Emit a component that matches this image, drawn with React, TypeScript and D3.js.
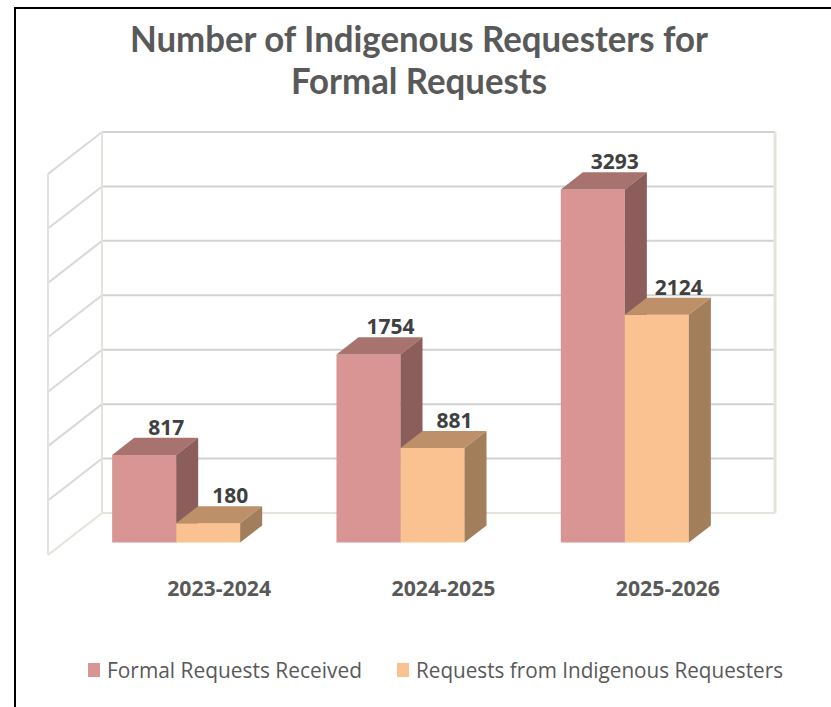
import React from 'react';
import * as d3 from 'd3';

const categories = ['2023-2024', '2024-2025', '2025-2026'];
const seriesNames = ['Formal Requests Received', 'Requests from Indigenous Requesters'];
const formalRequests = [817, 1754, 3293];
const indigenousRequests = [180, 881, 2124];
const yTicks = [0, 500, 1000, 1500, 2000, 2500, 3000, 3500];
const titleLines = ['Number of Indigenous Requesters for', 'Formal Requests'];

const W = 831;
const H = 707;

const frontLeft = 48;
const frontRight = 721;
const floorFrontY = 555;
const depthDX = 54;
const depthDY = 42;
const wallH = 381;
const t0 = 0.296;
const t1 = 0.704;

const faceColors = [
  { front: '#d99594', top: '#a8736f', side: '#8b5e5c' },
  { front: '#fac191', top: '#be906a', side: '#a27e5c' },
];

export default function App() {
  const yScale = d3.scaleLinear().domain([0, 3500]).range([0, wallH]);
  const xBand = d3.scaleBand<string>().domain(categories).range([frontLeft, frontRight]);
  const sBand = d3.scaleBand<string>().domain(seriesNames).range([-64, 64]);

  const proj = (x: number, h: number, t: number): [number, number] => [
    x + depthDX * t,
    floorFrontY - depthDY * t - h,
  ];
  const poly = (pts: [number, number][]) => pts.map((p) => p.join(',')).join(' ');

  const backX0 = frontLeft + depthDX;
  const backX1 = frontRight + depthDX;
  const backY0 = floorFrontY - depthDY;

  const seriesData = [formalRequests, indigenousRequests];

  return (
    <svg width={W} height={H} style={{ position: 'absolute', left: 0, top: 0, background: '#fff' }}>
      {/* frame */}
      <path d={`M15,${H} V8 H${W}`} fill="none" stroke="#000" strokeWidth={2} />

      {/* title */}
      {titleLines.map((line, i) => (
        <text
          key={line}
          x={419}
          y={52 + i * 42}
          textAnchor="middle"
          fontFamily="Lato, 'Open Sans', sans-serif"
          fontWeight={700}
          fontSize={37}
          fill="#595959"
          textLength={i === 0 ? 578 : 256}
          lengthAdjust="spacingAndGlyphs"
        >
          {line}
        </text>
      ))}

      {/* walls gridlines */}
      {yTicks.map((v) => {
        const y = backY0 - yScale(v);
        return (
          <g key={v}>
            {v > 0 && (
              <>
                <line x1={backX0} x2={backX1} y1={y} y2={y} stroke="#d2d2d2" strokeWidth={2} />
                <line x1={frontLeft} y1={y + depthDY} x2={backX0} y2={y} stroke="#d9d9d9" strokeWidth={2} />
              </>
            )}
          </g>
        );
      })}
      {/* wall edges */}
      <line x1={backX0} x2={backX1} y1={backY0} y2={backY0} stroke="#e6e3dc" strokeWidth={2} />
      <line x1={frontLeft} y1={floorFrontY} x2={backX0} y2={backY0} stroke="#e6e3dc" strokeWidth={2} />
      <line x1={backX0} x2={backX0} y1={backY0} y2={backY0 - wallH} stroke="#e6e3dc" strokeWidth={2} />
      <line x1={backX1} x2={backX1} y1={backY0} y2={backY0 - wallH} stroke="#e6e3dc" strokeWidth={3} />
      <line x1={frontLeft} x2={frontLeft} y1={floorFrontY} y2={floorFrontY - wallH} stroke="#e6e3dc" strokeWidth={2} />

      {/* bars */}
      {categories.map((cat, ci) => (
        <g key={cat}>
          {seriesNames.map((s, si) => {
            const v = seriesData[si][ci];
            const h = yScale(v) * 0.985;
            const x0 = (xBand(cat) as number) + xBand.bandwidth() / 2 + (sBand(s) as number);
            const x1 = x0 + sBand.bandwidth();
            const c = faceColors[si];
            const lbl = proj((x0 + x1) / 2, h, t1);
            return (
              <g key={s}>
                <polygon
                  points={poly([proj(x0, h, t0), proj(x1, h, t0), proj(x1, 0, t0), proj(x0, 0, t0)])}
                  fill={c.front}
                />
                <polygon
                  points={poly([proj(x0, h, t0), proj(x1, h, t0), proj(x1, h, t1), proj(x0, h, t1)])}
                  fill={c.top}
                />
                <polygon
                  points={poly([proj(x1, h, t0), proj(x1, h, t1), proj(x1, 0, t1), proj(x1, 0, t0)])}
                  fill={c.side}
                />
                <text
                  x={lbl[0]}
                  y={lbl[1] - 3}
                  textAnchor="middle"
                  fontFamily="'Open Sans', sans-serif"
                  fontWeight={700}
                  fontSize={21}
                  fill="#404040"
                >
                  {v}
                </text>
              </g>
            );
          })}
        </g>
      ))}

      {/* category labels */}
      {categories.map((cat) => (
        <text
          key={cat}
          x={(xBand(cat) as number) + xBand.bandwidth() / 2 + 59}
          y={596}
          textAnchor="middle"
          fontFamily="'Open Sans', sans-serif"
          fontWeight={700}
          fontSize={21}
          fill="#595959"
          textLength={104}
          lengthAdjust="spacingAndGlyphs"
        >
          {cat}
        </text>
      ))}

      {/* legend */}
      {seriesNames.map((s, i) => {
        const lx = i === 0 ? 88 : 397;
        return (
          <g key={s}>
            <rect x={lx} y={663} width={12} height={14} fill={faceColors[i].front} />
            <text
              x={lx + 19}
              y={678}
              fontFamily="'Open Sans', sans-serif"
              fontSize={21}
              fill="#595959"
              textLength={i === 0 ? 255 : 367}
              lengthAdjust="spacingAndGlyphs"
            >
              {s}
            </text>
          </g>
        );
      })}
    </svg>
  );
}
